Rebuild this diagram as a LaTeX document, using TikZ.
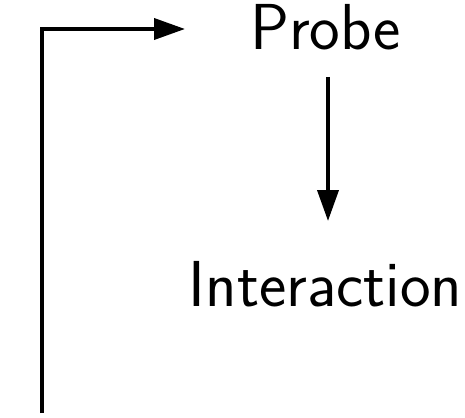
\documentclass[tikz,border=0pt]{standalone}
\usetikzlibrary{arrows.meta}
\begin{document}
\begin{tikzpicture}[x=1pt,y=-1pt,
  lbl/.style={inner sep=0pt,anchor=base,font=\sffamily\fontsize{65}{78}\selectfont},
  conn/.style={line width=3.8pt,-{Triangle[length=31pt,width=21pt]}}]
\useasboundingbox (0,0) rectangle (465,417);
\node[lbl] (probe) at (325.5,50) {Probe};
\node[lbl] (inter) at (325.5,306) {Interaction};
\coordinate (bot) at (42,413);
\coordinate (corner) at (42,29);
\coordinate (tip) at (185,29);
\coordinate (a1) at (328,77);
\coordinate (a2) at (328,221);
\draw[conn] (bot) -- (corner) -- (tip);
\draw[conn] (a1) -- (a2);
\end{tikzpicture}
\end{document}
